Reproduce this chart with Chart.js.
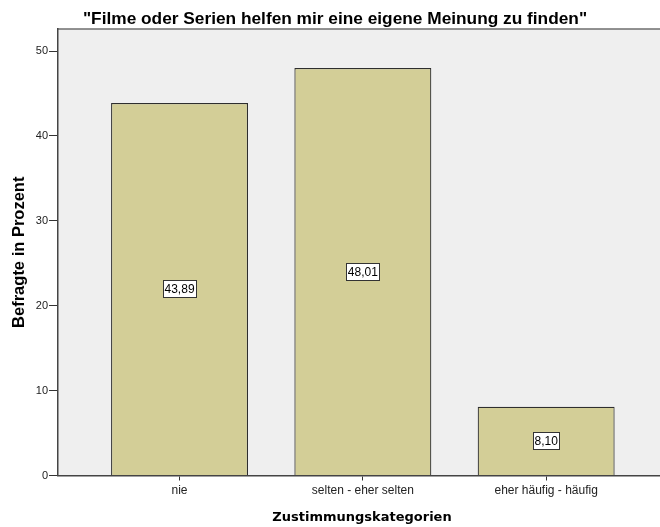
<!DOCTYPE html>
<html>
<head>
<meta charset="utf-8">
<script src="https://cdn.jsdelivr.net/npm/chart.js@4/dist/chart.umd.min.js"></script>
<style>
  html, body { margin: 0; padding: 0; background: #fff; overflow: hidden; }
  #wrap { width: 660px; height: 527px; }
</style>
</head>
<body>
<div id="wrap"><canvas id="chart"></canvas></div>
<script>
const categories = ['nie', 'selten - eher selten', 'eher häufig - häufig'];
const percentValues = [43.89, 48.01, 8.10];
const yTickValues = [0, 10, 20, 30, 40, 50];

const chartTitle = '"Filme oder Serien helfen mir eine eigene Meinung zu finden"';
const yTitle = 'Befragte in Prozent';
const xTitle = 'Zustimmungskategorien';

// hintergrund der zeichenfläche + oberer rahmen
const plotFrame = {
    id: 'plotFrame',
    beforeDraw(chart) {
        const { ctx, chartArea: a } = chart;
        ctx.save();
        ctx.fillStyle = '#efefef';
        ctx.fillRect(a.left, a.top, a.right - a.left, a.bottom - a.top);
        ctx.strokeStyle = '#6e6e6e';
        ctx.lineWidth = 1.5;
        ctx.beginPath();
        ctx.moveTo(a.left, a.top);
        ctx.lineTo(a.right, a.top);
        ctx.stroke();
        ctx.restore();
    }
};

// titel und achsentitel
const texts = {
    id: 'texts',
    afterDraw(chart) {
        const { ctx, chartArea: a } = chart;
        ctx.save();
        ctx.fillStyle = '#000';
        ctx.textAlign = 'center';
        ctx.textBaseline = 'alphabetic';
        ctx.font = 'bold 17.3px "Liberation Sans", Arial, sans-serif';
        ctx.fillText(chartTitle, 335, 24);

        ctx.font = 'bold 13px "DejaVu Sans", Verdana, sans-serif';
        ctx.fillText(xTitle, 362, 521);

        ctx.translate(23.5, (a.top + a.bottom) / 2);
        ctx.rotate(-Math.PI / 2);
        ctx.font = 'bold 16.5px "Liberation Sans", Arial, sans-serif';
        ctx.fillText(yTitle, 0, 0);
        ctx.restore();
    }
};

// wertebeschriftung in der balkenmitte
const valueBoxes = {
    id: 'valueBoxes',
    afterDatasetsDraw(chart) {
        const { ctx } = chart;
        const meta = chart.getDatasetMeta(0);
        ctx.save();
        ctx.font = '12px "Liberation Sans", Arial, sans-serif';
        ctx.textAlign = 'center';
        ctx.textBaseline = 'middle';
        meta.data.forEach((bar, i) => {
            const txt = percentValues[i].toFixed(2).replace('.', ',');
            const cx = bar.x;
            const cy = (bar.y + bar.base) / 2;
            const w = Math.round(ctx.measureText(txt).width + 2.5);
            const h = 17;
            const x0 = Math.round(cx - w / 2) + 0.5;
            const y0 = Math.round(cy - h / 2) + 0.5;
            ctx.fillStyle = '#fff';
            ctx.fillRect(x0, y0, w, h);
            ctx.strokeStyle = '#333';
            ctx.lineWidth = 1;
            ctx.strokeRect(x0, y0, w, h);
            ctx.fillStyle = '#000';
            ctx.fillText(txt, cx, cy + 1);
        });
        ctx.restore();
    }
};

new Chart(document.getElementById('chart'), {
    type: 'bar',
    data: {
        labels: categories,
        datasets: [{
            data: percentValues.map((v, i) => ({ x: i, y: v })),
            backgroundColor: '#d3ce97',
            borderColor: '#2e2e2e',
            borderWidth: 1.2,
            barPercentage: 0.747,
            categoryPercentage: 1
        }]
    },
    options: {
        responsive: true,
        maintainAspectRatio: false,
        animation: false,
        layout: { padding: { top: 29, left: 0, right: 0, bottom: 0 } },
        plugins: {
            legend: { display: false },
            tooltip: { enabled: false }
        },
        scales: {
            x: {
                type: 'linear',
                offset: false,
                min: -0.663,
                max: 2.621,
                ticks: {
                    stepSize: 1,
                    padding: 3,
                    color: '#222',
                    font: { family: '"Liberation Sans", Arial, sans-serif', size: 12 },
                    callback: v => categories[v]
                },
                afterBuildTicks: s => { s.ticks = s.ticks.filter(t => Number.isInteger(t.value)); },
                afterFit: s => { s.height = 51.5; },
                grid: { offset: false, drawOnChartArea: false, drawTicks: true, tickLength: 5, color: '#333' },
                border: { color: '#444', width: 1.5 }
            },
            y: {
                min: 0,
                max: 52.6,
                ticks: {
                    stepSize: 10,
                    padding: 1,
                    color: '#222',
                    font: { family: '"Liberation Sans", Arial, sans-serif', size: 11 }
                },
                afterBuildTicks: s => { s.ticks = yTickValues.map(v => ({ value: v })); },
                afterFit: s => { s.width = 58; },
                grid: { drawOnChartArea: false, drawTicks: true, tickLength: 9, color: '#333' },
                border: { color: '#444', width: 1.5 }
            }
        }
    },
    plugins: [plotFrame, valueBoxes, texts]
});
</script>
</body>
</html>
